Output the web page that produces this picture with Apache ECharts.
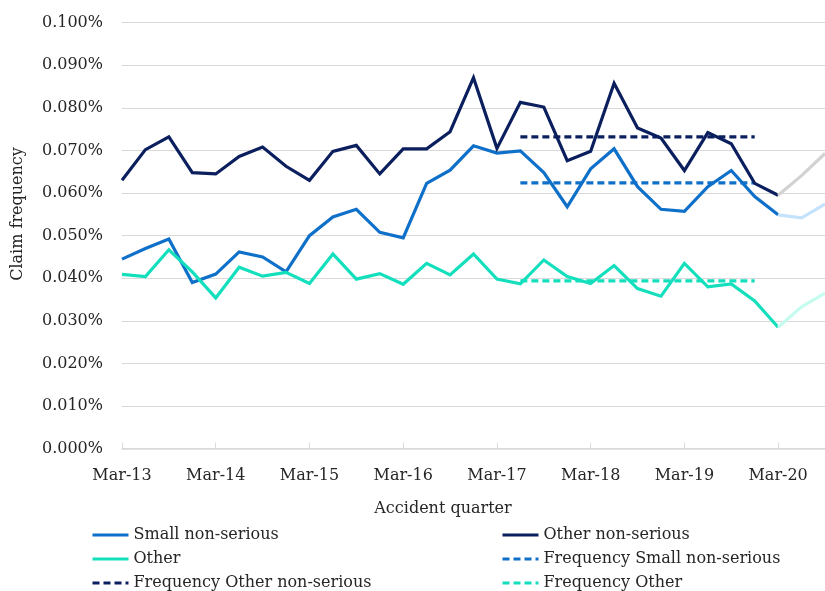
<!DOCTYPE html>
<html>
<head>
<meta charset="utf-8">
<title>Claim frequency by accident quarter</title>
<script src="https://cdn.jsdelivr.net/npm/echarts@6/dist/echarts.min.js"></script>
<style>
  html, body { margin: 0; padding: 0; background: #ffffff; }
  #chart { width: 825px; height: 591px; }
</style>
</head>
<body>
<div id="chart"></div>
<script>
// Accident quarters, Mar-13 .. Sep-20
const quarters = [
  'Mar-13','Jun-13','Sep-13','Dec-13',
  'Mar-14','Jun-14','Sep-14','Dec-14',
  'Mar-15','Jun-15','Sep-15','Dec-15',
  'Mar-16','Jun-16','Sep-16','Dec-16',
  'Mar-17','Jun-17','Sep-17','Dec-17',
  'Mar-18','Jun-18','Sep-18','Dec-18',
  'Mar-19','Jun-19','Sep-19','Dec-19',
  'Mar-20','Jun-20','Sep-20'
];

// Claim frequency (%), Mar-13 .. Mar-20
const smallNonSerious = [
  0.0445, 0.0470, 0.0492, 0.0390, 0.0410, 0.0462, 0.0450, 0.0415,
  0.0500, 0.0544, 0.0562, 0.0508, 0.0495, 0.0623, 0.0654, 0.0711,
  0.0694, 0.0699, 0.0648, 0.0568, 0.0657, 0.0704, 0.0615, 0.0562,
  0.0557, 0.0615, 0.0653, 0.0592, 0.0549
];
const otherNonSerious = [
  0.0630, 0.0702, 0.0732, 0.0648, 0.0645, 0.0686, 0.0708, 0.0663,
  0.0630, 0.0698, 0.0712, 0.0645, 0.0704, 0.0704, 0.0744, 0.0871,
  0.0705, 0.0813, 0.0802, 0.0676, 0.0698, 0.0858, 0.0753, 0.0729,
  0.0653, 0.0742, 0.0716, 0.0623, 0.0595
];
const other = [
  0.0409, 0.0404, 0.0467, 0.0415, 0.0354, 0.0426, 0.0405, 0.0414,
  0.0388, 0.0457, 0.0398, 0.0411, 0.0386, 0.0435, 0.0408, 0.0457,
  0.0398, 0.0387, 0.0443, 0.0404, 0.0388, 0.0430, 0.0376, 0.0358,
  0.0435, 0.0380, 0.0387, 0.0347, 0.0285
];

// Mar-20 .. Sep-20 (lighter continuation)
const smallNonSeriousRecent = [0.0549, 0.0542, 0.0574];
const otherNonSeriousRecent = [0.0595, 0.0641, 0.0693];
const otherRecent = [0.0285, 0.0333, 0.0365];

// Average frequencies over Jun-17 .. Dec-19
const avgSmallNonSerious = 0.0624;
const avgOtherNonSerious = 0.0732;
const avgOther = 0.0394;
const avgFrom = 'Jun-17';
const avgTo = 'Dec-19';

const colors = {
  small: '#0f70c9',
  otherNS: '#0b1f5e',
  other: '#14dfbd',
  smallLight: '#c4e2fb',
  otherNSLight: '#d2d2d2',
  otherLight: '#c6fbef'
};

const FONT = '"DejaVu Serif", "Liberation Serif", serif';
const TEXT = '#262626';
const LINE_W = 3.2;

function padTo(values, start) {
  return quarters.map((_, i) =>
    i >= start && i - start < values.length ? values[i - start] : null);
}
function flatBetween(value, from, to) {
  const a = quarters.indexOf(from), b = quarters.indexOf(to);
  return quarters.map((_, i) => (i >= a && i <= b ? value : null));
}
const recentStart = quarters.indexOf('Mar-20');

function solid(name, data, color) {
  return {
    name, type: 'line', data, symbol: 'none', showSymbol: false,
    lineStyle: { color, width: LINE_W, join: 'miter' },
    itemStyle: { color }, z: 3
  };
}
function dashed(name, data, color) {
  return {
    name, type: 'line', data, symbol: 'none', showSymbol: false,
    lineStyle: { color, width: LINE_W, type: [7, 4] },
    itemStyle: { color }, z: 2
  };
}

// Legend: two columns of three rows, one legend component per entry
const legendLayout = [
  ['Small non-serious', 91, 0], ['Other non-serious', 501, 0],
  ['Other', 91, 1], ['Frequency Small non-serious', 501, 1],
  ['Frequency Other non-serious', 91, 2], ['Frequency Other', 501, 2]
];
const legends = legendLayout.map(([name, left, row]) => ({
  data: [name],
  left, top: 527 + row * 24,
  padding: 0,
  itemWidth: 36, itemHeight: 14,
  itemStyle: { opacity: 0 },
  lineStyle: { width: 3 },
  textStyle: { fontFamily: FONT, fontSize: 16, color: TEXT }
}));

const chart = echarts.init(document.getElementById('chart'), null, { renderer: 'canvas' });

chart.setOption({
  animation: false,
  backgroundColor: '#ffffff',
  textStyle: { fontFamily: FONT, color: TEXT },
  grid: { left: 122, right: 0, top: 22.7, bottom: 142.3, containLabel: false },
  xAxis: {
    type: 'category',
    data: quarters,
    boundaryGap: false,
    axisLine: { lineStyle: { color: '#d9d9d9', width: 1.5 } },
    axisTick: { show: true, inside: true, length: 6, interval: 3, lineStyle: { color: '#d9d9d9', width: 1 } },
    axisLabel: { interval: 3, margin: 19, fontFamily: FONT, fontSize: 16, color: TEXT },
    splitLine: { show: false }
  },
  yAxis: {
    type: 'value',
    min: 0, max: 0.1, interval: 0.01,
    axisLine: { show: false },
    axisTick: { show: false },
    axisLabel: {
      margin: 19, fontFamily: FONT, fontSize: 16, color: TEXT,
      formatter: v => Number(v).toFixed(3) + '%'
    },
    splitLine: { lineStyle: { color: '#d9d9d9', width: 1.2 } }
  },
  legend: legends,
  graphic: [
    {
      type: 'text', x: 18, y: 214, rotation: Math.PI / 2,
      style: { text: 'Claim frequency', font: '16px ' + FONT, fill: TEXT, align: 'center', verticalAlign: 'middle' }
    },
    {
      type: 'text', x: 443, y: 509,
      style: { text: 'Accident quarter', font: '16px ' + FONT, fill: TEXT, align: 'center', verticalAlign: 'middle' }
    }
  ],
  series: [
    dashed('Frequency Small non-serious', flatBetween(avgSmallNonSerious, avgFrom, avgTo), colors.small),
    dashed('Frequency Other non-serious', flatBetween(avgOtherNonSerious, avgFrom, avgTo), colors.otherNS),
    dashed('Frequency Other', flatBetween(avgOther, avgFrom, avgTo), colors.other),
    solid('Small non-serious', padTo(smallNonSerious, 0), colors.small),
    solid('Other non-serious', padTo(otherNonSerious, 0), colors.otherNS),
    solid('Other', padTo(other, 0), colors.other),
    solid('Small non-serious (recent)', padTo(smallNonSeriousRecent, recentStart), colors.smallLight),
    solid('Other non-serious (recent)', padTo(otherNonSeriousRecent, recentStart), colors.otherNSLight),
    solid('Other (recent)', padTo(otherRecent, recentStart), colors.otherLight)
  ]
});
</script>
</body>
</html>
